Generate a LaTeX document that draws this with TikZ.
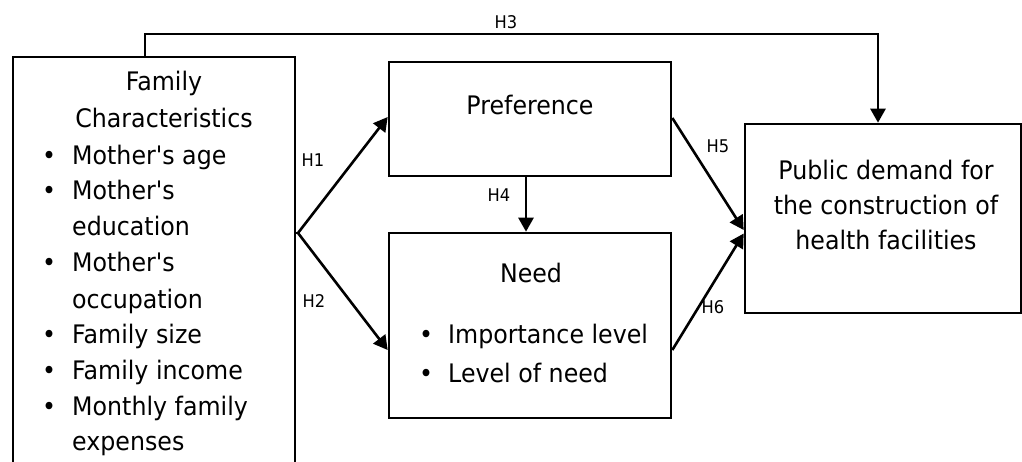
\documentclass[tikz,border=0pt]{standalone}
\usepackage{fontspec}
\setmainfont{DejaVu Sans}[FakeStretch=0.93, Ligatures=TeXOff]
\usetikzlibrary{arrows.meta}
\tikzset{
  box/.style={draw, line width=2.6pt, rectangle, inner sep=0pt},
  txt/.style={font=\fontsize{25.5}{28}\selectfont, inner sep=0pt, anchor=base},
  txtl/.style={txt, anchor=base west},
  hl/.style={font=\fontsize{17.5}{19}\selectfont, inner sep=0pt, anchor=base},
  arr/.style={line width=2.6pt, -{Triangle[length=14pt,width=15pt]}},
}
\begin{document}
\begin{tikzpicture}[x=1pt,y=-1pt]
\useasboundingbox (0,0) rectangle (1022,462);
% boxes
\node[box, minimum width=282pt, minimum height=423pt] (fam) at (154,268.5) {};
\node[box, minimum width=282pt, minimum height=114pt] (pref) at (530,119) {};
\node[box, minimum width=282pt, minimum height=185pt] (need) at (530,325.5) {};
\node[box, minimum width=276pt, minimum height=189pt] (rd) at (883,218.5) {};
% left box text
\node[txt] (t1) at (164,91) {Family};
\node[txt] (t2) at (164,128) {Characteristics};
\node[txt] (b1) at (49,165) {•};
\node[txtl] (l1) at (72,165) {Mother's age};
\node[txt] (b2) at (49,200) {•};
\node[txtl] (l2) at (72,200) {Mother's};
\node[txtl] (l2b) at (72,236) {education};
\node[txt] (b3) at (49,272) {•};
\node[txtl] (l3) at (72,272) {Mother's};
\node[txtl] (l3b) at (72,308) {occupation};
\node[txt] (b4) at (49,343) {•};
\node[txtl] (l4) at (72,343) {Family size};
\node[txt] (b5) at (49,379) {•};
\node[txtl] (l5) at (72,379) {Family income};
\node[txt] (b6) at (49,415) {•};
\node[txtl] (l6) at (72,415) {Monthly family};
\node[txtl] (l6b) at (72,450) {expenses};
% preference
\node[txt] (pt) at (530,115) {Preference};
% need
\node[txt] (nt) at (531,283) {Need};
\node[txt] (nb1) at (426,343) {•};
\node[txtl] (n1) at (448,343) {Importance level};
\node[txt] (nb2) at (426,382) {•};
\node[txtl] (n2) at (448,382) {Level of need};
% right box
\node[txt] (r1) at (886,180) {Public demand for};
\node[txt] (r2) at (886,215) {the construction of};
\node[txt] (r3) at (886,250) {health facilities};
% connectors
\coordinate (split) at (298,233);
\coordinate (h3a) at (145,57);
\coordinate (h3top) at (878,34);
\draw[arr] (split) -- ([yshift=2pt]pref.west);
\draw[arr] (split) -- ([yshift=-24.5pt]need.west);
\draw[line width=2.6pt] (fam.east |- split) -- (split);
\draw[arr] ([xshift=-4pt]pref.south) -- ([xshift=-4pt]need.north);
\draw[arr] ([yshift=1pt]pref.east) -- ([yshift=-11.5pt]rd.west);
\draw[arr] ([yshift=-24.5pt]need.east) -- ([yshift=-15pt]rd.west);
\draw[arr] (h3a) |- (h3top) -- ([xshift=-5pt]rd.north);
% labels
\node[hl] (H1) at (313,167) {H1};
\node[hl] (H2) at (314,307) {H2};
\node[hl] (H3) at (506,29) {H3};
\node[hl] (H4) at (499,202) {H4};
\node[hl] (H5) at (718,153) {H5};
\node[hl] (H6) at (713,313) {H6};
\end{tikzpicture}
\end{document}
